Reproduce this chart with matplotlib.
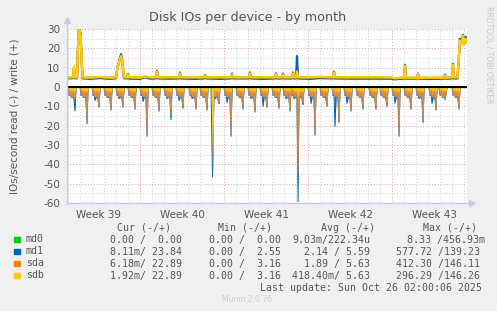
import matplotlib
matplotlib.use("Agg")
import matplotlib.pyplot as plt
import numpy as np

# x axis is hours since the left edge of the graph (1 pixel column = 2 h)
week_label_hours = [62, 230, 398, 566, 734]
week_labels = ["Week 39", "Week 40", "Week 41", "Week 42", "Week 43"]
week_line_hours = [146, 314, 482, 650]
day_line_hours = [2 + 24 * k for k in range(34)]

# writes (+)
write_hours = [0, 12, 14, 16, 20, 23, 25, 27, 31,
               46, 66, 86, 98, 101, 104, 108, 110, 114,
               120, 122, 124, 146, 156, 166, 178, 180, 182,
               206, 224, 226, 228, 256, 274, 276, 278, 306,
               328, 330, 332, 364, 366, 368, 390, 416, 418,
               420, 430, 432, 434, 450, 452, 454, 458, 460,
               462, 486, 506, 532, 534, 536, 566, 606, 646,
               656, 672, 674, 676, 678, 700, 702, 704, 726,
               754, 756, 758, 770, 772, 774, 781, 786, 788,
               792, 794, 797, 800]
sdb_write = [5.0, 5.0, 10.5, 5.0, 5.0, 28, 29.5, 27, 5.0,
             4.8, 5.2, 4.8, 5.0, 10, 12.5, 16, 14, 5.0,
             5.0, 6.5, 5.0, 4.8, 5.4, 5.0, 5.0, 8, 5.0,
             5.0, 5.0, 7, 5.0, 5.0, 5.0, 6, 5.0, 5.0,
             5.0, 6.5, 5.0, 5.0, 7, 5.0, 5.0, 5.0, 6.5,
             5.0, 5.0, 6.5, 5.0, 5.0, 7, 5.0, 5.0, 8,
             5.0, 5.0, 5.2, 5.0, 7.5, 5.0, 5.0, 5.0, 5.0,
             4.5, 4.8, 4.8, 11, 4.8, 4.8, 6.7, 4.8, 4.8,
             4.8, 6, 4.8, 5.0, 11.5, 5.0, 5.0, 24, 22,
             26.5, 22, 25, 23]
sda_write = list(sdb_write)  # mirrored pair, sdb drawn on top
md1_write = [4.5, 4.5, 9.5, 4.5, 4.5, 29, 30, 28, 4.5,
             4.2, 4.6, 4.2, 4.5, 10.5, 13, 17, 14.5, 4.5,
             4.4, 6.8, 4.3, 4.2, 5.0, 4.3, 4.4, 8.5, 4.4,
             4.3, 4.4, 7.5, 4.4, 4.2, 4.4, 6.3, 4.4, 4.2,
             4.4, 7, 4.4, 4.4, 7.5, 4.4, 4.2, 4.4, 7,
             4.4, 4.4, 7, 4.4, 4.4, 7.5, 4.4, 4.4, 16,
             4.4, 4.2, 4.6, 4.4, 8, 4.4, 4.3, 4.3, 4.3,
             4.0, 4.3, 4.3, 11.5, 4.3, 4.3, 7, 4.3, 4.2,
             4.3, 6.5, 4.3, 4.4, 12, 4.4, 4.4, 25, 23,
             27, 23, 26, 24]

# reads (-): one burst per day, hour of the deepest spike
burst_hours = [16, 40, 64, 88, 112, 136, 160, 184, 208, 232, 258, 280,
               304, 328, 352, 376, 400, 424, 446, 462, 472, 496, 520, 544,
               568, 592, 618, 640, 664, 688, 712, 738, 758, 784]
md1_pre = [-5, -5, -7, -5, -6, -5, -7.5, -5, -6, -7, -6, -5,
           -6, -8, -5, -6, -10, -5, -6, -6, -5, -8.5, -5, -20.5,
           -8.5, -5, -5, -5, -8.5, -5, -6, -8.5, -3, -5]
md1_deep = [-12.4, -19, -10.5, -12, -10.5, -11.5, -25.5, -12.5, -17, -11, -11.5, -12,
            -8.5, -25.5, -11.5, -13, -10.5, -11, -12.5, -59.3, -9, -25, -10, -18.5,
            -12.5, -11.5, -11.5, -10, -25.5, -11.5, -18.5, -12, -3.5, -11.5]
sda_deep = [-6, -18, -10, -11.5, -10, -11, -25, -12, -14, -10.5, -11, -11.5,
            -8, -25, -11, -12.5, -10, -10.5, -12, -44.5, -8.5, -24.5, -9.5, -18,
            -12, -11, -11, -9.5, -25, -11, -18, -11.5, -3, -11]
sdb_deep = [-2, -2.5, -2.5, -2.5, -2.5, -2.5, -2.5, -2.5, -2.5, -2.5, -2.5, -2.5,
            -2.5, -2.5, -2.5, -2.5, -2.5, -2.5, -2.5, -6, -2.5, -2.5, -2.5, -2.5,
            -2.5, -2.5, -2.5, -2.5, -2.5, -2.5, -2.5, -2.5, -1.5, -2.5]
sdb_extra_hours = [291]
sdb_extra = [-46.5]

legend_rows = [
    ("md0", "#00cc00", "0.00 /  0.00", "0.00 /  0.00", "9.03m/222.34u", "8.33 /456.93m"),
    ("md1", "#0066b3", "8.11m/ 23.84", "0.00 /  2.55", "2.14 / 5.59", "577.72 /139.23"),
    ("sda", "#ff8000", "6.18m/ 22.89", "0.00 /  3.16", "1.89 / 5.63", "412.30 /146.11"),
    ("sdb", "#ffcc00", "1.92m/ 22.89", "0.00 /  3.16", "418.40m/ 5.63", "296.29 /146.26"),
]
avg_x = [292, 304, 304, 292]
max_x = [407, 396, 396, 396]

grid_h = np.arange(0, 801, 0.5)
offsets = [-14, -12, -10, -8, -6, -4, -2, 0, 2]


def burst_series(pre, deep, shoulder):
    out = np.zeros_like(grid_h)
    for h, p, d in zip(burst_hours, pre, deep):
        ys = [0, shoulder * 0.8, shoulder * 0.6, p, shoulder, shoulder * 0.7, shoulder * 1.2, d, 0]
        xs = [h + o for o in offsets]
        out = np.minimum(out, np.interp(grid_h, xs, ys, left=0, right=0))
    return out


md1_read = burst_series(md1_pre, md1_deep, -5.5)
sda_read = burst_series([-5] * len(burst_hours), sda_deep, -5)
sdb_read = burst_series([-2] * len(burst_hours), sdb_deep, -2)
for h, v in zip(sdb_extra_hours, sdb_extra):
    spike = np.interp(grid_h, [h - 3, h, h + 3], [0, v, 0], left=0, right=0)
    sdb_read = np.minimum(sdb_read, spike)
    md1_read = np.minimum(md1_read, spike)

W, H = 497, 311
fig = plt.figure(figsize=(W / 100, H / 100), dpi=100, facecolor="#f0f0f0")
ax = fig.add_axes([67 / W, 1 - 203 / H, 400 / W, 174 / H])
ax.set_facecolor("white")
ax.set_xlim(0, 800)
ax.set_ylim(-60, 30)

# grid
for h in day_line_hours:
    if h not in week_line_hours:
        ax.axvline(h, color="#d0d0d0", lw=0.7, ls=(0, (1, 2)), zorder=1)
for h in week_line_hours:
    ax.axvline(h, color="#e8a0a0", lw=0.7, ls=(0, (1, 2)), zorder=1)
for y in range(-55, 30, 10):
    ax.axhline(y, color="#d0d0d0", lw=0.7, ls=(0, (1, 2)), zorder=1)
for y in range(-60, 31, 10):
    if y != 0:
        ax.axhline(y, color="#e8a0a0", lw=0.7, ls=(0, (1, 2)), zorder=1)

# reads
ax.fill_between(grid_h, 0, md1_read, color="#3a78b8", lw=0, zorder=2)
ax.plot(grid_h, md1_read, color="#0066b3", lw=0.7, zorder=2)
ax.fill_between(grid_h, 0, sda_read, color="#e8913c", lw=0, zorder=3)
ax.plot(grid_h, sda_read, color="#c98a4e", lw=0.7, zorder=3)
ax.fill_between(grid_h, 0, sdb_read, color="#ffc21a", lw=0, zorder=4)

# writes
ax.plot(write_hours, md1_write, color="#0066b3", lw=1.6, zorder=5)
ax.plot(write_hours, sda_write, color="#ff8000", lw=1.6, zorder=6)
ax.plot(write_hours, sdb_write, color="#ffcc00", lw=1.6, zorder=7)
ax.axhline(0, color="#00cc00", lw=1, zorder=7)
ax.axhline(0, color="black", lw=1.4, zorder=8)

for s in ax.spines.values():
    s.set_visible(False)
axis_col = "#c8c8f0"
ax.plot([0, 0], [0, 1.045], transform=ax.transAxes, color=axis_col, lw=1, clip_on=False, zorder=9)
ax.plot([0, 1.01], [0, 0], transform=ax.transAxes, color=axis_col, lw=1, clip_on=False, zorder=9)
ax.plot([0], [1.05], marker="^", ms=5, color=axis_col, transform=ax.transAxes, clip_on=False)
ax.plot([1.013], [0], marker=">", ms=5, color=axis_col, transform=ax.transAxes, clip_on=False)

ax.set_yticks(range(-60, 31, 10))
ax.set_yticklabels([str(v) for v in range(-60, 31, 10)])
ax.set_xticks(week_label_hours)
ax.set_xticklabels(week_labels)
ax.tick_params(length=0, labelsize=7.5, colors="#555555", pad=5)
ax.set_ylabel("IOs/second read (-) / write (+)", fontsize=7.5, color="#555555", labelpad=17)

fig.text(248 / W, 1 - 18 / H, "Disk IOs per device - by month", ha="center", va="center",
         fontsize=9.2, color="#555555")
fig.text(489 / W, 1 - 55 / H, "RRDTOOL / TOBI OETIKER", rotation=270, ha="center", va="center",
         fontsize=5.5, color="#c8c8c8")

mono = "DejaVu Sans Mono"
fs = 7.1
tc = "#555555"
headers = [(117, "Cur (-/+)"), (218, "Min (-/+)"), (321, "Avg (-/+)"), (423, "Max (-/+)")]
for x, t in headers:
    fig.text(x / W, 1 - 228 / H, t, family=mono, fontsize=fs, color=tc, va="center")
for i, (name, col, cur, mn, avg, mx) in enumerate(legend_rows):
    y = 1 - (239.5 + 12 * i) / H
    fig.patches.append(plt.Rectangle((14 / W, y - 2.5 / H), 5.5 / W, 5.5 / H, color=col,
                                     transform=fig.transFigure))
    fig.text(26 / W, y, name, family=mono, fontsize=fs, color=tc, va="center")
    fig.text(110 / W, y, cur, family=mono, fontsize=fs, color=tc, va="center")
    fig.text(209 / W, y, mn, family=mono, fontsize=fs, color=tc, va="center")
    fig.text(avg_x[i] / W, y, avg, family=mono, fontsize=fs, color=tc, va="center")
    fig.text(max_x[i] / W, y, mx, family=mono, fontsize=fs, color=tc, va="center")
fig.text(482 / W, 1 - 288 / H, "Last update: Sun Oct 26 02:00:06 2025", family=mono,
         fontsize=fs, color=tc, va="center", ha="right")
fig.text(247 / W, 1 - 300 / H, "Munin 2.0.76", fontsize=5.5, color="#cccccc", ha="center", va="center")

fig.savefig("out.png", dpi=100, facecolor=fig.get_facecolor())
